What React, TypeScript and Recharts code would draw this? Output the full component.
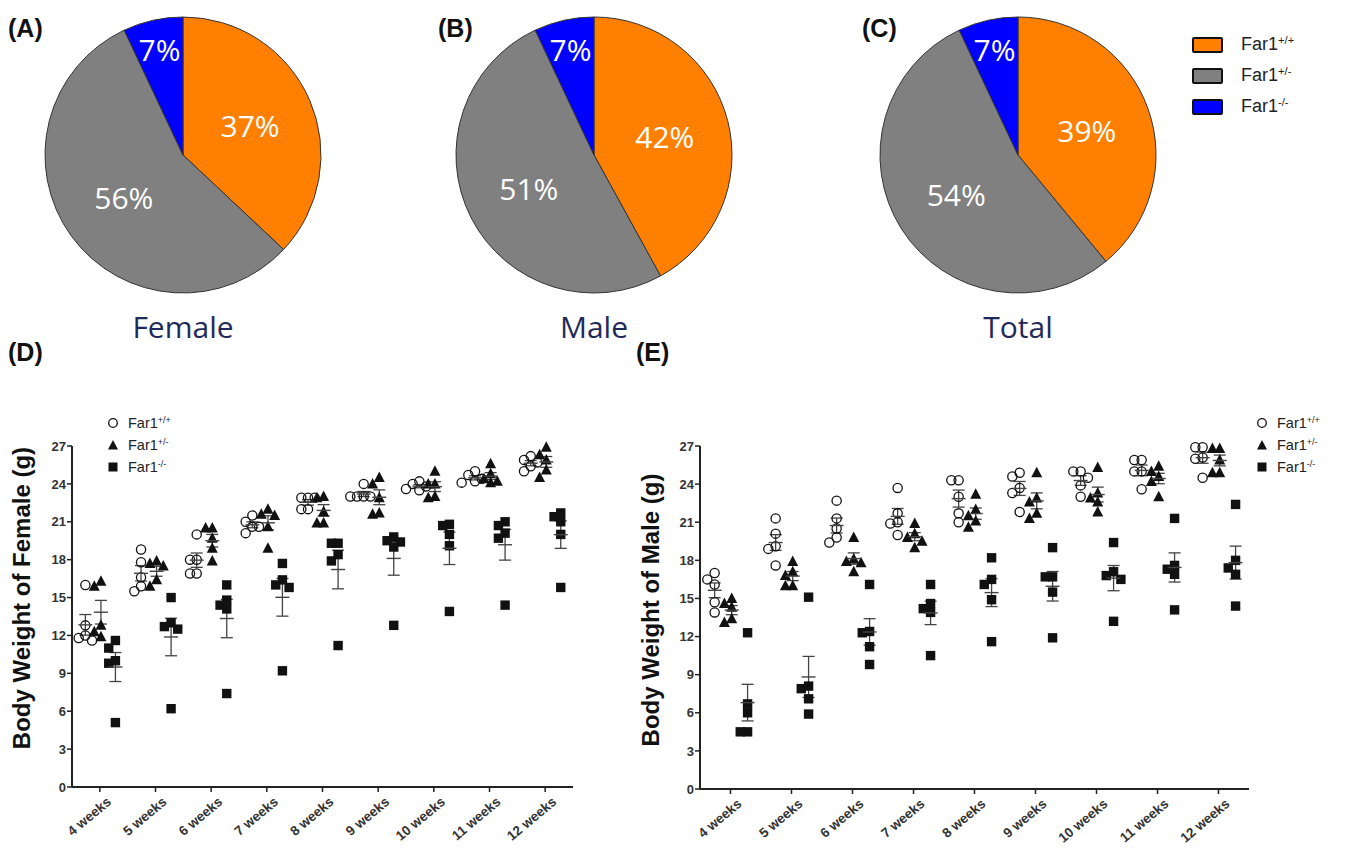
import React from 'react';
import { PieChart, Pie, Cell, ScatterChart, Scatter, XAxis, YAxis, ErrorBar } from 'recharts';

// genotype shares (%) for the pies: +/+, +/-, -/-
const GENOTYPES = ['+/+', '+/-', '-/-'];
const PIE_COLORS = ['#ff8000', '#808080', '#0000ff'];
const PIE_FEMALE = [37, 56, 7];
const PIE_MALE = [42, 51, 7];
const PIE_TOTAL = [39, 54, 7];

const WEEKS = [4, 5, 6, 7, 8, 9, 10, 11, 12];
const Y_TICKS = [0, 3, 6, 9, 12, 15, 18, 21, 24, 27];

// body weights (g), one row per week
const FEMALE_WT = [
  [16.0, 12.8, 12.0, 11.8, 11.6],
  [18.8, 17.8, 16.6, 15.9, 15.5],
  [20.0, 18.0, 18.0, 16.9, 16.9],
  [21.5, 21.0, 20.6, 20.6, 20.1],
  [22.9, 22.9, 22.9, 22.0, 22.0],
  [24.0, 23.0, 23.0, 23.0, 23.0],
  [24.2, 24.0, 23.8, 23.6, 23.5],
  [25.0, 24.7, 24.4, 24.2, 24.1],
  [26.2, 25.9, 25.7, 25.4, 25.0],
];
const FEMALE_HET = [
  [16.3, 15.9, 12.8, 12.3, 11.9],
  [17.9, 17.7, 17.5, 16.4, 15.9],
  [20.5, 20.5, 19.7, 18.9, 17.9],
  [22.0, 21.6, 21.5, 20.6, 18.9],
  [23.0, 22.9, 21.8, 20.9, 20.9],
  [24.5, 24.0, 22.9, 21.7, 21.6],
  [25.0, 24.0, 24.0, 23.0, 22.9],
  [25.6, 24.8, 24.4, 24.2, 24.1],
  [26.9, 26.3, 25.9, 25.1, 24.5],
];
const FEMALE_KO = [
  [11.6, 11.0, 10.0, 9.8, 5.1],
  [15.0, 13.0, 12.7, 12.5, 6.2],
  [16.0, 14.8, 14.4, 14.1, 7.4],
  [17.7, 16.4, 16.0, 15.8, 9.2],
  [19.3, 19.3, 18.4, 17.9, 11.2],
  [19.8, 19.5, 19.4, 19.0, 12.8],
  [20.8, 20.7, 20.0, 19.1, 13.9],
  [21.0, 20.7, 20.1, 19.7, 14.4],
  [21.7, 21.4, 21.0, 20.0, 15.8],
];
const MALE_WT = [
  [17.0, 16.5, 16.1, 14.7, 13.9],
  [21.3, 20.1, 19.1, 18.9, 17.6],
  [22.7, 21.3, 20.5, 19.8, 19.4],
  [23.7, 21.7, 21.0, 20.9, 20.0],
  [24.3, 24.3, 23.0, 21.7, 21.0],
  [24.9, 24.6, 23.7, 23.3, 21.8],
  [25.0, 25.0, 24.5, 23.9, 23.0],
  [25.9, 25.9, 25.0, 25.0, 23.6],
  [26.9, 26.9, 26.1, 26.0, 24.5],
];
const MALE_HET = [
  [15.0, 14.6, 14.3, 13.4, 13.1],
  [17.9, 17.1, 16.8, 16.0, 16.0],
  [19.8, 18.1, 17.9, 17.8, 17.1],
  [20.9, 20.1, 19.8, 19.5, 19.0],
  [23.2, 22.0, 21.5, 21.1, 20.6],
  [24.9, 22.9, 22.6, 21.7, 21.3],
  [25.3, 23.3, 22.9, 22.6, 21.8],
  [25.4, 25.0, 24.6, 24.2, 23.0],
  [26.8, 26.8, 25.9, 24.9, 24.9],
];
const MALE_KO = [
  [12.3, 6.7, 6.0, 4.5, 4.5],
  [15.1, 8.1, 7.9, 7.1, 5.9],
  [16.1, 12.4, 12.3, 11.2, 9.8],
  [16.1, 14.6, 14.2, 13.9, 10.5],
  [18.2, 16.5, 16.1, 14.9, 11.6],
  [19.0, 16.7, 16.7, 15.5, 11.9],
  [19.4, 17.1, 16.8, 16.5, 13.2],
  [21.3, 17.6, 17.3, 16.9, 14.1],
  [22.4, 18.0, 17.4, 16.9, 14.4],
];

const FONT = '"Liberation Sans", Arial, sans-serif';
const OFFSETS = [-0.26, 0.02, 0.28];

// spread overlapping points sideways like a column scatter
function spread(values: number[], base: number, step = 0.12) {
  const placed: { x: number; y: number }[] = [];
  const order = [0, -1, 1, -2, 2, -3, 3];
  values.forEach((v) => {
    for (const k of order) {
      const x = base + k * step;
      if (!placed.some((p) => Math.abs(p.x - x) < step * 0.9 && Math.abs(p.y - v) < 0.65)) {
        placed.push({ x, y: v });
        break;
      }
    }
  });
  return placed;
}

const buildPoints = (groups: number[][], off: number) =>
  groups.flatMap((vals, i) => spread(vals, WEEKS[i] + off));

const buildMeans = (groups: number[][], off: number) =>
  groups.map((vals, i) => {
    const n = vals.length;
    const mean = vals.reduce((a, b) => a + b, 0) / n;
    const sd = Math.sqrt(vals.reduce((a, b) => a + (b - mean) ** 2, 0) / (n - 1));
    return { x: WEEKS[i] + off, y: mean, err: sd / Math.sqrt(n) };
  });

const OpenCircle = (p: any) => (
  <circle cx={p.cx} cy={p.cy} r={4.6} fill="none" stroke="#111" strokeWidth={1.3} />
);
const Tri = (p: any) => (
  <path d={`M${p.cx},${p.cy - 6} L${p.cx + 5.5},${p.cy + 4.5} L${p.cx - 5.5},${p.cy + 4.5} Z`} fill="#111" />
);
const Sq = (p: any) => <rect x={p.cx - 4.7} y={p.cy - 4.7} width={9.4} height={9.4} fill="#111" />;
const MeanBar = (p: any) => (
  <line x1={p.cx - 7} x2={p.cx + 7} y1={p.cy} y2={p.cy} stroke="#444" strokeWidth={1.4} />
);

const WeekTick = ({ x, y, payload }: any) => (
  <g transform={`translate(${x + 6},${y + 2})`}>
    <text
      textAnchor="end"
      transform="rotate(-40)"
      dy="0.7em"
      fontSize={13.5}
      fontWeight="bold"
      fill="#333"
      fontFamily={FONT}
    >{`${payload.value} weeks`}</text>
  </g>
);

function WeightChart({ wt, het, ko, width, height, margin }: any) {
  const groups = [wt, het, ko];
  const shapes = [OpenCircle, Tri, Sq];
  return (
    <ScatterChart width={width} height={height} margin={margin}>
      <XAxis
        type="number"
        dataKey="x"
        domain={[3.5, 12.5]}
        ticks={WEEKS}
        height={50}
        axisLine={{ stroke: '#222', strokeWidth: 2 }}
        tickLine={{ stroke: '#222', strokeWidth: 1.5 }}
        tickSize={5}
        tick={WeekTick}
        interval={0}
      />
      <YAxis
        type="number"
        dataKey="y"
        domain={[0, 27]}
        ticks={Y_TICKS}
        width={40}
        axisLine={{ stroke: '#222', strokeWidth: 2 }}
        tickLine={{ stroke: '#222', strokeWidth: 1.5 }}
        tickSize={5}
        tickMargin={1}
        tick={{ fill: '#333', fontSize: 13, fontWeight: 700, fontFamily: FONT }}
        interval={0}
      />
      {groups.map((g, i) => (
        <Scatter
          key={`pts${i}`}
          data={buildPoints(g, OFFSETS[i])}
          shape={shapes[i]}
          isAnimationActive={false}
        />
      ))}
      {groups.map((g, i) => (
        <Scatter key={`mean${i}`} data={buildMeans(g, OFFSETS[i])} shape={MeanBar} isAnimationActive={false}>
          <ErrorBar dataKey="err" direction="y" width={6} stroke="#444" strokeWidth={1.3} isAnimationActive={false} />
        </Scatter>
      ))}
    </ScatterChart>
  );
}

const renderPieLabel = ({ cx, cy, midAngle, outerRadius, value }: any) => {
  const r = value < 10 ? outerRadius * 0.78 : outerRadius * 0.53;
  const rad = Math.PI / 180;
  return (
    <text
      x={cx + r * Math.cos(-midAngle * rad)}
      y={cy + r * Math.sin(-midAngle * rad)}
      fill="#fff"
      textAnchor="middle"
      dominantBaseline="central"
      fontSize={30}
      fontFamily='"Open Sans", sans-serif'
    >{`${value}%`}</text>
  );
};

function GenotypePie({ values, left, title }: any) {
  const data = values.map((v: number, i: number) => ({ name: GENOTYPES[i], value: v }));
  return (
    <div style={{ position: 'absolute', left, top: 0 }}>
      <PieChart width={300} height={310}>
        <Pie
          data={data}
          dataKey="value"
          cx={150}
          cy={150}
          outerRadius={138}
          startAngle={90}
          endAngle={-270}
          label={renderPieLabel}
          labelLine={false}
          isAnimationActive={false}
        >
          {data.map((d: any, i: number) => (
            <Cell key={d.name} fill={PIE_COLORS[i]} stroke="#333" strokeWidth={1} />
          ))}
        </Pie>
      </PieChart>
      <div style={{
        position: 'absolute', left: 5, width: 300, top: 306, textAlign: 'center',
        fontFamily: '"Open Sans", sans-serif', fontSize: 30, color: '#1f2a5a',
      }}>{title}</div>
    </div>
  );
}

const PanelTag = ({ x, y, children }: any) => (
  <div style={{ position: 'absolute', left: x, top: y, fontFamily: FONT, fontWeight: 700, fontSize: 25, color: '#111' }}>
    {children}
  </div>
);

const Sup = ({ children }: any) => (
  <sup style={{ fontSize: '0.62em', verticalAlign: '0.55em', lineHeight: 0 }}>{children}</sup>
);

function MarkerLegend({ x, y }: any) {
  const icons = [
    <circle cx={6} cy={6} r={4.3} fill="none" stroke="#111" strokeWidth={1.3} />,
    <path d="M6,1 L11,10.5 L1,10.5 Z" fill="#111" />,
    <rect x={1.5} y={1.5} width={9} height={9} fill="#111" />,
  ];
  return (
    <div style={{ position: 'absolute', left: x, top: y }}>
      {GENOTYPES.map((g, i) => (
        <div key={g} style={{ display: 'flex', alignItems: 'center', height: 22 }}>
          <svg width={12} height={12}>{icons[i]}</svg>
          <span style={{ marginLeft: 9, fontFamily: FONT, fontSize: 14.5, color: '#222' }}>
            Far1<Sup>{g}</Sup>
          </span>
        </div>
      ))}
    </div>
  );
}

const AxisTitle = ({ cx, cy, text }: any) => (
  <div style={{
    position: 'absolute', left: cx - 250, top: cy - 15, width: 500, height: 30, textAlign: 'center',
    transform: 'rotate(-90deg)', fontFamily: FONT, fontWeight: 700, fontSize: 24, color: '#111', lineHeight: '30px',
  }}>{text}</div>
);

export default function App() {
  return (
    <div style={{ position: 'absolute', left: 0, top: 0, width: 1345, height: 849, background: '#fff', overflow: 'hidden' }}>
      <PanelTag x={8} y={14}>(A)</PanelTag>
      <PanelTag x={438} y={14}>(B)</PanelTag>
      <PanelTag x={862} y={14}>(C)</PanelTag>
      <GenotypePie values={PIE_FEMALE} left={28} title="Female" />
      <GenotypePie values={PIE_MALE} left={439} title="Male" />
      <GenotypePie values={PIE_TOTAL} left={863} title="Total" />

      <div style={{ position: 'absolute', left: 1192, top: 29 }}>
        {GENOTYPES.map((g, i) => (
          <div key={g} style={{ display: 'flex', alignItems: 'center', height: 31 }}>
            <div style={{ width: 27, height: 12, background: PIE_COLORS[i], border: '2px solid #111', borderRadius: 2 }} />
            <span style={{ marginLeft: 18, fontFamily: FONT, fontSize: 18, color: '#222' }}>
              Far1<Sup>{g}</Sup>
            </span>
          </div>
        ))}
      </div>

      <PanelTag x={8} y={338}>(D)</PanelTag>
      <PanelTag x={636} y={338}>(E)</PanelTag>

      <div style={{ position: 'absolute', left: 0, top: 400 }}>
        <WeightChart
          wt={FEMALE_WT} het={FEMALE_HET} ko={FEMALE_KO}
          width={600} height={449}
          margin={{ top: 46, right: 27, bottom: 12, left: 32 }}
        />
      </div>
      <AxisTitle cx={22} cy={598} text="Body Weight of Female (g)" />
      <MarkerLegend x={107} y={412} />

      <div style={{ position: 'absolute', left: 628, top: 400 }}>
        <WeightChart
          wt={MALE_WT} het={MALE_HET} ko={MALE_KO}
          width={650} height={449}
          margin={{ top: 46, right: 29, bottom: 10, left: 32 }}
        />
      </div>
      <AxisTitle cx={651} cy={610} text="Body Weight of Male (g)" />
      <MarkerLegend x={1256} y={412} />
    </div>
  );
}
